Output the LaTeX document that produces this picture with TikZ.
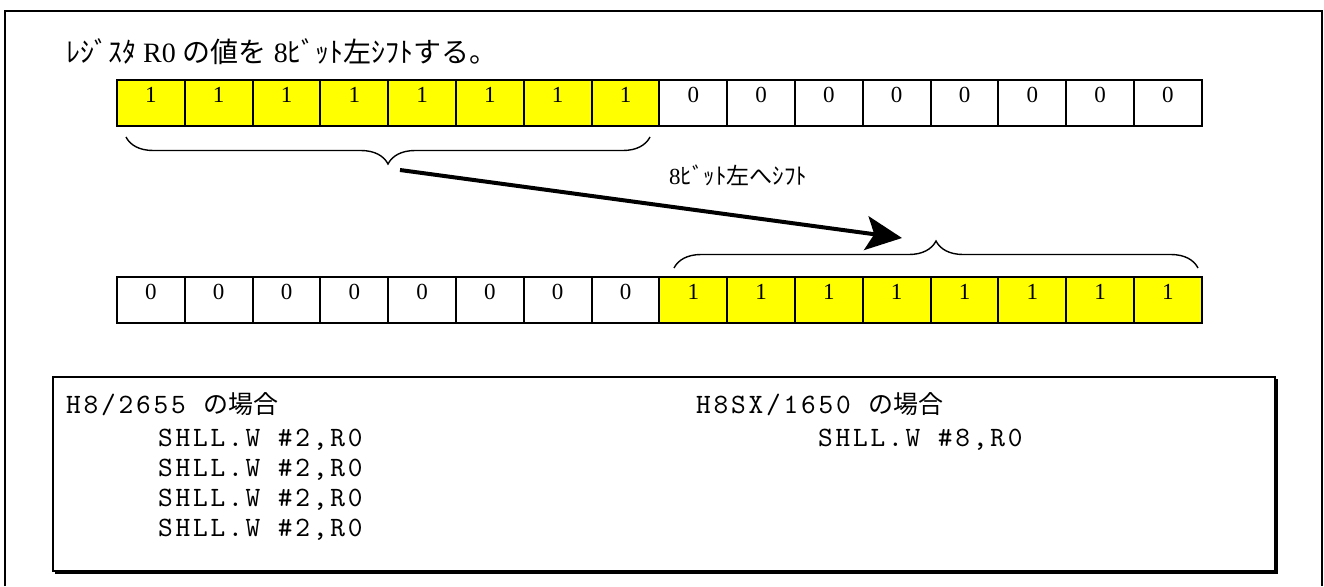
\documentclass[tikz,border=0pt]{standalone}
\usepackage{fontspec}
\setmainfont{Liberation Serif}
\setmonofont{lmmono10-regular.otf}[LetterSpace=10]
\newfontfamily\jp{Noto Sans CJK JP}
\usetikzlibrary{decorations.pathreplacing,arrows.meta,calc}
\definecolor{bity}{RGB}{255,255,0}
\tikzset{
  cell/.style={draw, line width=2pt, minimum width=67.8pt, minimum height=46pt, inner sep=0pt,
    text height=15.5pt, text depth=16pt, font=\fontsize{23}{23}\selectfont},
  one/.style={cell, fill=bity},
  brc/.style={decorate, line width=1.4pt, decoration={brace, amplitude=27pt, aspect=0.5}},
  bigarrow/.style={line width=4pt, -{Stealth[length=36pt, width=34pt, inset=8pt]}},
  codetxt/.style={anchor=west, inner sep=0pt, font=\fontsize{28}{28}\selectfont\ttfamily},
}
\begin{document}
\begin{tikzpicture}[x=1pt, y=-1pt]
\useasboundingbox (0,0) rectangle (1324,586);
% outer frame
\draw[line width=2pt] (5,586) -- (5,11) -- (1322,11) -- (1322,586);
% title
\node[anchor=west, inner sep=0pt, font=\fontsize{28}{28}\selectfont] (title) at (66,52)
  {{\jp ﾚｼﾞｽﾀ} R0 {\jp の値を} 8{\jp ﾋﾞｯﾄ左ｼﾌﾄする。}};
% top register
\foreach \i in {1,...,8} \node[one] (t\i) at ({117+67.8*(\i-0.5)},103) {1};
\foreach \i in {9,...,16} \node[cell] (t\i) at ({117+67.8*(\i-0.5)},103) {0};
% bottom register
\foreach \i in {1,...,8} \node[cell] (b\i) at ({117+67.8*(\i-0.5)},300) {0};
\foreach \i in {9,...,16} \node[one] (b\i) at ({117+67.8*(\i-0.5)},300) {1};
% braces
\draw[brc] (650,137) -- (126,137);
\draw[brc] (674,268) -- (1198,268);
% arrow
\coordinate (as) at (400,170);
\coordinate (ae) at (902,238);
\draw[bigarrow] (as) -- (ae);
\node[anchor=west, inner sep=0pt, font=\fontsize{23}{23}\selectfont] (lbl) at (669,175)
  {8{\jp ﾋﾞｯﾄ左へｼﾌﾄ}};
% code box
\node[draw, line width=1.5pt, minimum width=1222pt, minimum height=194pt, anchor=north west, inner sep=0pt] (code) at (52,376) {};
\draw[line width=2.5pt] ($(code.south west)+(3,1.5)$) -- ($(code.south east)+(1.5,1.5)$) -- ($(code.north east)+(1.5,3)$);
\node[codetxt] (h1) at (66,404) {H8/2655 {\jp\fontsize{25}{25}\selectfont の場合}};
\node[codetxt] (s1) at (158,440) {SHLL.W \#2,R0};
\node[codetxt] (s2) at (158,470) {SHLL.W \#2,R0};
\node[codetxt] (s3) at (158,500) {SHLL.W \#2,R0};
\node[codetxt] (s4) at (158,530) {SHLL.W \#2,R0};
\node[codetxt] (h2) at (696,404) {H8SX/1650 {\jp\fontsize{25}{25}\selectfont の場合}};
\node[codetxt] (r1) at (818,440) {SHLL.W \#8,R0};
\end{tikzpicture}
\end{document}
